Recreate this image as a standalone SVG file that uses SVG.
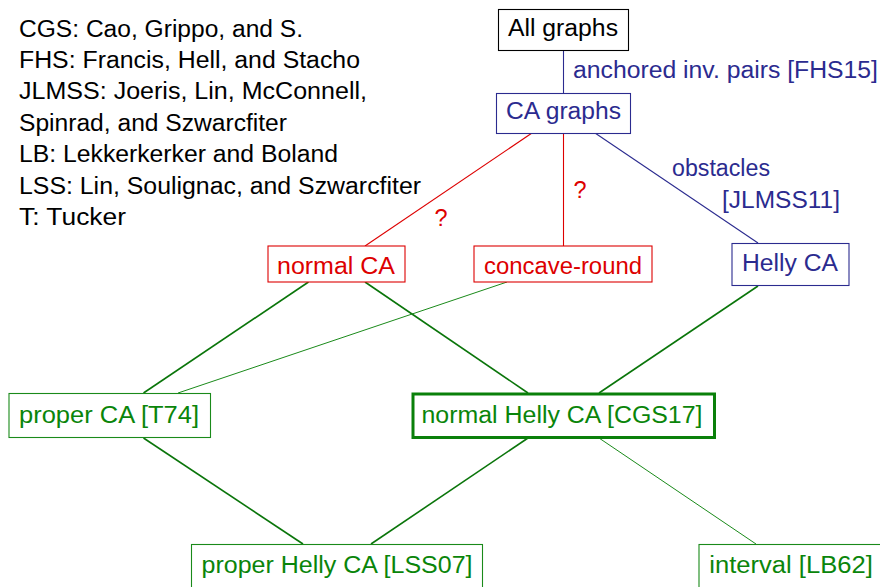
<svg xmlns="http://www.w3.org/2000/svg" width="880" height="587" viewBox="0 0 880 587">
<style>
text{font-family:"Liberation Sans",Arial,sans-serif;font-size:23.5px}
.k{fill:#000}.b{fill:#2b2b8f}.r{fill:#dd0000}.g{fill:#0a850a}
rect{fill:#fff;stroke-width:1.1}
.kb{stroke:#000}.bb{stroke:#2b2b8f}.rb{stroke:#dd0000}.gb{stroke:#1a8a1a}
#connectors line{fill:none}
.lb{stroke:#2b2b8f;stroke-width:1.1}.lr{stroke:#dd0000;stroke-width:1.1}
.lg{stroke:#0a750a;stroke-width:1.6}.lt{stroke:#1a8a1a;stroke-width:1}
</style>
<rect x="0" y="0" width="880" height="587" style="fill:#fff;stroke:none"/>
<g id="legend" class="k">
<text x="19" y="36.5" textLength="284" lengthAdjust="spacingAndGlyphs">CGS: Cao, Grippo, and S.</text>
<text x="19" y="67.9" textLength="341" lengthAdjust="spacingAndGlyphs">FHS: Francis, Hell, and Stacho</text>
<text x="19" y="99.3" textLength="348" lengthAdjust="spacingAndGlyphs">JLMSS: Joeris, Lin, McConnell,</text>
<text x="19" y="130.7" textLength="268" lengthAdjust="spacingAndGlyphs">Spinrad, and Szwarcfiter</text>
<text x="19" y="162.1" textLength="319" lengthAdjust="spacingAndGlyphs">LB: Lekkerkerker and Boland</text>
<text x="19" y="193.5" textLength="402" lengthAdjust="spacingAndGlyphs">LSS: Lin, Soulignac, and Szwarcfiter</text>
<text x="19" y="224.9" textLength="107" lengthAdjust="spacingAndGlyphs">T: Tucker</text>
</g>
<g id="connectors">
<line class="lb" x1="563.5" y1="50" x2="563.5" y2="93"/>
<line class="lr" x1="532" y1="133" x2="365" y2="246"/>
<line class="lr" x1="563.5" y1="133" x2="563.5" y2="246"/>
<line class="lb" x1="595" y1="133" x2="758" y2="243"/>
<line class="lg" x1="308.5" y1="282" x2="143.5" y2="393"/>
<line class="lg" x1="365" y1="282" x2="528" y2="393"/>
<line class="lt" x1="507" y1="282" x2="178" y2="393"/>
<line class="lg" x1="758" y1="286" x2="599" y2="393"/>
<line class="lg" x1="143.5" y1="438" x2="303" y2="544"/>
<line class="lg" x1="528" y1="438" x2="371" y2="544"/>
<line class="lt" x1="599" y1="438" x2="756" y2="544"/>
<text class="b" x="573" y="78.3" textLength="305" lengthAdjust="spacingAndGlyphs">anchored inv. pairs [FHS15]</text>
<text class="b" x="672" y="175.7" textLength="98" lengthAdjust="spacingAndGlyphs">obstacles</text>
<text class="b" x="722" y="207.5" textLength="118" lengthAdjust="spacingAndGlyphs">[JLMSS11]</text>
<text class="r" x="573.5" y="198">?</text>
<text class="r" x="434.5" y="226">?</text>
</g>
<g id="all-graphs">
<rect class="kb" x="498.5" y="9.5" width="130" height="41"/>
<text class="k" x="508" y="36" textLength="110" lengthAdjust="spacingAndGlyphs">All graphs</text>
</g>
<g id="ca-graphs">
<rect class="bb" x="496.5" y="93.5" width="134" height="40"/>
<text class="b" x="506" y="119.3" textLength="115" lengthAdjust="spacingAndGlyphs">CA graphs</text>
</g>
<g id="normal-ca">
<rect class="rb" x="268" y="246" width="137" height="36"/>
<text class="r" x="277" y="273.5" textLength="118" lengthAdjust="spacingAndGlyphs">normal CA</text>
</g>
<g id="concave-round">
<rect class="rb" x="474" y="246" width="178" height="36"/>
<text class="r" x="484" y="273.5" textLength="158" lengthAdjust="spacingAndGlyphs">concave-round</text>
</g>
<g id="helly-ca">
<rect class="bb" x="732" y="243.5" width="117" height="42"/>
<text class="b" x="742" y="271" textLength="96" lengthAdjust="spacingAndGlyphs">Helly CA</text>
</g>
<g id="proper-ca">
<rect class="gb" x="9" y="393.5" width="201.5" height="44"/>
<text class="g" x="19" y="422.5" textLength="180" lengthAdjust="spacingAndGlyphs">proper CA [T74]</text>
</g>
<g id="normal-helly-ca">
<rect class="gb" x="413" y="394" width="301.5" height="43.5" style="stroke-width:3;stroke:#0a800a"/>
<text class="g" x="421.5" y="422.7" textLength="281" lengthAdjust="spacingAndGlyphs">normal Helly CA [CGS17]</text>
</g>
<g id="proper-helly-ca">
<rect class="gb" x="191.5" y="544.5" width="291" height="60"/>
<text class="g" x="201.5" y="573" textLength="271" lengthAdjust="spacingAndGlyphs">proper Helly CA [LSS07]</text>
</g>
<g id="interval">
<rect class="gb" x="699" y="544.5" width="190" height="60"/>
<text class="g" x="709.3" y="573.3" textLength="163.5" lengthAdjust="spacingAndGlyphs">interval [LB62]</text>
</g>
</svg>
